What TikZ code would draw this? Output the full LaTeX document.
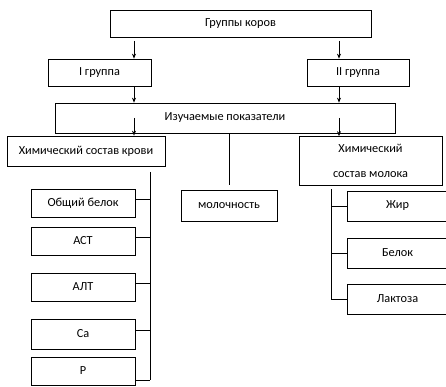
\documentclass[tikz,border=0pt]{standalone}
\usepackage{fontspec}
\setmainfont{Carlito}
\usetikzlibrary{positioning}
\usetikzlibrary{arrows.meta}
\tikzstyle{box} = [rectangle, draw=black, line width=0.7pt, inner sep=0pt, minimum height=27pt, font=\fontsize{12.3}{14}\selectfont]
\tikzstyle{arrow} = [line width=0.7pt,-{Stealth[length=5pt,width=4pt]}]
\tikzstyle{line} = [line width=0.7pt]

\begin{document}
\begin{tikzpicture}[x=1pt,y=-1pt]
\useasboundingbox (0,0) rectangle (446,387);

\node (groups) [box, minimum width=261pt] at (240.5,23.5) {Группы коров};
\node (grI) [box, minimum width=103pt] at (99.5,72.5) {I группа};
\node (grII) [box, minimum width=102pt] at (358,72.5) {II группа};
\node (study) [box, minimum width=340pt, minimum height=30pt] at (225,118) {Изучаемые показатели};

\node (blood) [box, minimum width=158pt, minimum height=30pt] at (86,151) {Химический состав крови};
\node (milkyield) [box, minimum width=96pt, minimum height=31pt] at (229,205.5) {молочность};
\node (milk) [box, minimum width=143pt, minimum height=49pt, align=center] at (370.5,161) {Химический\\[11pt]состав молока};

% blood column
\node (protein) [box, minimum width=104pt, minimum height=28pt] at (83,203) {Общий белок};
\node (ast) [box, minimum width=104pt, minimum height=28pt] at (83,241) {АСТ};
\node (alt) [box, minimum width=104pt, minimum height=28pt] at (83,287) {АЛТ};
\node (ca) [box, minimum width=104pt, minimum height=30pt] at (83,334) {Са};
\node (p) [box, minimum width=104pt, minimum height=28pt] at (83,371) {Р};

% milk column
\node (fat) [box, minimum width=101pt, minimum height=30pt] at (397.5,206) {Жир};
\node (mprotein) [box, minimum width=101pt, minimum height=30pt] at (397.5,253) {Белок};
\node (lactose) [box, minimum width=101pt, minimum height=30pt] at (397.5,299) {Лактоза};

\coordinate (a1) at (134,41);
\coordinate (a2) at (339,41);
\coordinate (c1) at (134,118);
\coordinate (c2) at (339,118);
\coordinate (m1) at (229,185);
\coordinate (bt) at (150,172);
\coordinate (bb) at (150,380);
\coordinate (mt) at (331,189);

\draw [arrow] (a1) -- (a1 |- grI.north);
\draw [arrow] (a2) -- (a2 |- grII.north);
\draw [arrow] (grI.south -| a1) -- (a1 |- study.north);
\draw [arrow] (grII.south -| a2) -- (a2 |- study.north);
\draw [arrow] (c1) -- (c1 |- blood.north);
\draw [arrow] (c2) -- (c2 |- milk.north);
\draw [line] (study.south -| m1) -- (m1);

\draw [line] (bt) -- (bb);
\foreach \n in {protein,ast,alt,ca}
  \draw [line] ([yshift=4pt]\n.east) -- ([yshift=4pt]\n.east -| bt);
\draw [line] (p.east |- bb) -- (bb);

\draw [line] (mt) -- (mt |- lactose.west);
\foreach \n in {fat,mprotein,lactose}
  \draw [line] (\n.west) -- (\n.west -| mt);
\end{tikzpicture}
\end{document}
